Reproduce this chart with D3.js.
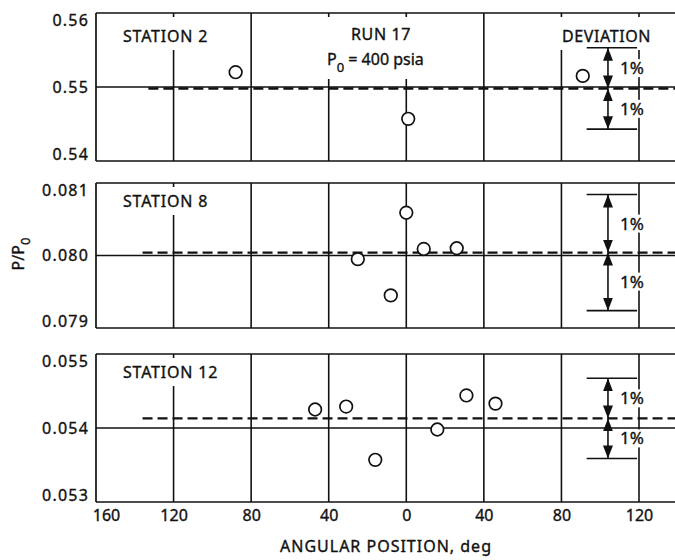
<!DOCTYPE html>
<html>
<head>
<meta charset="utf-8">
<script src="https://cdn.jsdelivr.net/npm/d3@7"></script>
<style>
  body { margin: 0; background: #fff; }
  svg text { font-family: "Noto Sans", sans-serif; fill: #111; stroke: #111; stroke-width: 0.35px; }
</style>
</head>
<body>
<div class="box"></div>
<script>
// données
const xTicks = [-160, -120, -80, -40, 0, 40, 80, 120];
const gridAngles = [-120, -80, -40, 0, 40, 80, 120];

const stationNames = ['STATION 2', 'STATION 8', 'STATION 12'];
const yTicks2 = [0.54, 0.55, 0.56];
const yTicks8 = [0.079, 0.080, 0.081];
const yTicks12 = [0.053, 0.054, 0.055];

const angles2 = [-88, 1, 91];
const values2 = [0.5520, 0.5457, 0.5515];
const angles8 = [-25, -8, 0, 9, 26];
const values8 = [0.07995, 0.07945, 0.08059, 0.08009, 0.08010];
const angles12 = [-47, -31, -16, 16, 31, 46];
const values12 = [0.05425, 0.05429, 0.05357, 0.05398, 0.05444, 0.05433];

const meanLevels = [0.5498, 0.08004, 0.05413];
const meanStart = [-133, -136, -136];
const deviation = 0.01;

// mise en place
const dims = {width: 675, height: 560, left: 96, right: 639, xEnd: 690};

const panels = [
  {top: 13, bottom: 161, labelY: 42, ticks: yTicks2, fmt: '.2f', angles: angles2, values: values2},
  {top: 183, bottom: 328, labelY: 207, ticks: yTicks8, fmt: '.3f', angles: angles8, values: values8},
  {top: 354, bottom: 502, labelY: 378, ticks: yTicks12, fmt: '.3f', angles: angles12, values: values12}
];

const svg = d3.select('.box')
              .append('svg')
              .attr('width', dims.width)
              .attr('height', dims.height);

const x = d3.scaleLinear()
            .domain([-160, 120])
            .range([dims.left, dims.right]);

svg.append('defs').append('marker')
   .attr('id', 'fleche')
   .attr('viewBox', '0 0 13 10')
   .attr('refX', 13).attr('refY', 5)
   .attr('markerWidth', 13).attr('markerHeight', 10)
   .attr('markerUnits', 'userSpaceOnUse')
   .attr('orient', 'auto-start-reverse')
   .append('path')
   .attr('d', 'M0,0 L13,5 L0,10 Z')
   .attr('fill', '#111');

const whiteBox = (g, x0, y0, w, h) => {
  g.append('rect').attr('x', x0).attr('y', y0).attr('width', w).attr('height', h).attr('fill', '#fff');
};

panels.forEach((p, i) => {

  const y = d3.scaleLinear()
              .domain([p.ticks[0], p.ticks[2]])
              .range([p.bottom, p.top]);

  const g = svg.append('g');

  // grille verticale
  g.selectAll('.vgrid')
   .data(gridAngles)
   .enter().append('line')
   .attr('x1', d => x(d)).attr('x2', d => x(d))
   .attr('y1', p.top).attr('y2', p.bottom)
   .attr('stroke', '#111').attr('stroke-width', 1.6);

  // cadre
  g.append('line').attr('x1', dims.left).attr('x2', dims.xEnd)
   .attr('y1', p.top).attr('y2', p.top).attr('stroke', '#111').attr('stroke-width', 1.7);
  g.append('line').attr('x1', dims.left).attr('x2', dims.xEnd)
   .attr('y1', p.bottom).attr('y2', p.bottom).attr('stroke', '#111').attr('stroke-width', 1.7);
  g.append('line').attr('x1', dims.left).attr('x2', dims.left)
   .attr('y1', p.top).attr('y2', p.bottom).attr('stroke', '#111').attr('stroke-width', 1.7);

  // ligne pleine du milieu
  g.append('line').attr('x1', dims.left).attr('x2', dims.xEnd)
   .attr('y1', y(p.ticks[1])).attr('y2', y(p.ticks[1]))
   .attr('stroke', '#111').attr('stroke-width', 1.3);

  // cases blanches derriere les textes
  whiteBox(g, 116, p.top + 4, 104, p.labelY - p.top + 4);
  if (i === 0) {
    whiteBox(g, 318, p.top + 4, 124, 62);
    whiteBox(g, 552, p.top + 4, 108, 33);
  }

  // moyenne en tirets
  const m = meanLevels[i];
  g.append('line')
   .attr('x1', x(meanStart[i])).attr('x2', dims.xEnd)
   .attr('y1', y(m)).attr('y2', y(m))
   .attr('stroke', '#111').attr('stroke-width', 2.3)
   .attr('stroke-dasharray', '10,5');

  // ecart 1 %
  const hi = m * (1 + deviation), lo = m * (1 - deviation);
  [hi, lo].forEach(v => {
    g.append('line').attr('x1', x(93)).attr('x2', x(119))
     .attr('y1', y(v)).attr('y2', y(v))
     .attr('stroke', '#111').attr('stroke-width', 1.6);
    g.append('line').attr('x1', x(104)).attr('x2', x(104))
     .attr('y1', y(m)).attr('y2', y(v))
     .attr('stroke', '#111').attr('stroke-width', 1.6)
     .attr('marker-start', 'url(#fleche)').attr('marker-end', 'url(#fleche)');
    const ym = (y(m) + y(v)) / 2;
    whiteBox(g, 617, ym - 9, 36, 18);
    g.append('text').attr('x', 620).attr('y', ym + 6)
     .attr('font-size', 17).text('1%');
  });

  // points
  g.selectAll('circle')
   .data(p.angles.map((a, k) => ({a, v: p.values[k]})))
   .enter().append('circle')
   .attr('cx', d => x(d.a)).attr('cy', d => y(d.v))
   .attr('r', 6.3)
   .attr('fill', '#fff').attr('stroke', '#111').attr('stroke-width', 1.7);

  // nom de station
  g.append('text').attr('x', 123).attr('y', p.labelY)
   .attr('font-size', 16).attr('letter-spacing', 0.8)
   .text(stationNames[i]);

  // axe y
  const axeY = svg.append('g')
                  .attr('transform', `translate(${dims.left}, 0)`)
                  .call(d3.axisLeft(y).tickValues(p.ticks).tickFormat(d3.format(p.fmt)).tickSize(0).tickPadding(7));
  axeY.select('.domain').remove();
  axeY.selectAll('text')
      .attr('font-size', 16).attr('letter-spacing', 1.2)
      .attr('font-family', '"Noto Sans", sans-serif')
      .attr('fill', '#111')
      .attr('dy', (d, k) => k === 0 ? '-0.1em' : (k === 2 ? '0.75em' : '0.32em'));
});

// textes du haut
svg.append('text').attr('x', 381).attr('y', 40).attr('text-anchor', 'middle')
   .attr('font-size', 16).attr('letter-spacing', 0.6).text('RUN 17');
const p0 = svg.append('text').attr('x', 327).attr('y', 65).attr('font-size', 16);
p0.append('tspan').text('P');
p0.append('tspan').attr('font-size', 13).attr('dy', 7).text('0');
p0.append('tspan').attr('dy', -7).text(' = 400 psia');

svg.append('text').attr('x', 562).attr('y', 42)
   .attr('font-size', 16).attr('letter-spacing', 0.6).text('DEVIATION');

// axe x
const axeX = svg.append('g')
                .attr('transform', `translate(0, ${panels[2].bottom + 4})`)
                .call(d3.axisBottom(x).tickValues(xTicks).tickFormat(d => Math.abs(d)).tickSize(0).tickPadding(4));
axeX.select('.domain').remove();
axeX.selectAll('text')
    .attr('font-size', 16)
    .attr('font-family', '"Noto Sans", sans-serif')
    .attr('fill', '#111')
    .attr('dx', d => d === -160 ? 10 : 0);

svg.append('text').attr('x', 386).attr('y', 552).attr('text-anchor', 'middle')
   .attr('font-size', 16).attr('letter-spacing', 1).text('ANGULAR POSITION, deg');

// titre y
const ty = svg.append('text')
              .attr('transform', 'translate(24, 254) rotate(-90)')
              .attr('text-anchor', 'middle')
              .attr('font-size', 16);
ty.append('tspan').text('P/P');
ty.append('tspan').attr('font-size', 13).attr('dy', 6).text('0');
</script>
</body>
</html>
